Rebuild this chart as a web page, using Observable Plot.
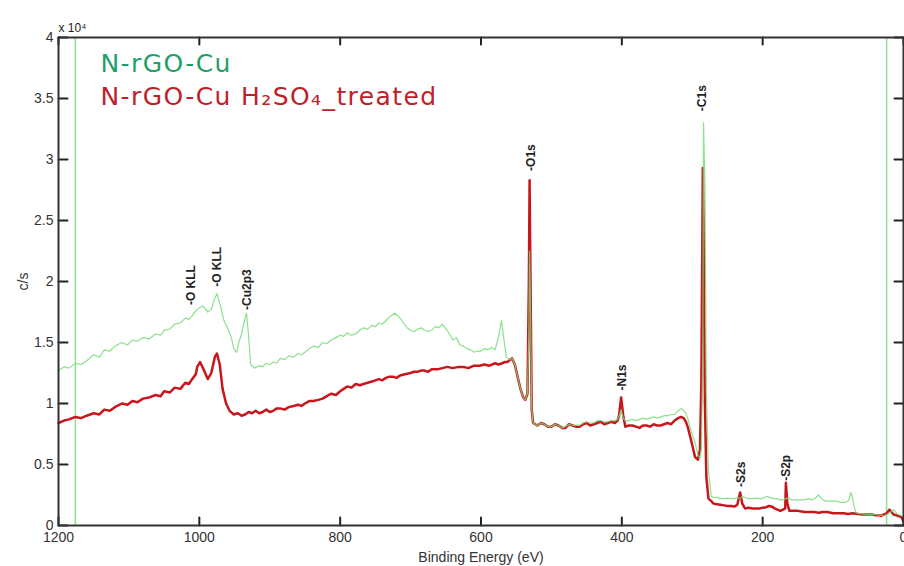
<!DOCTYPE html>
<html>
<head>
<meta charset="utf-8">
<script src="https://cdn.jsdelivr.net/npm/d3@7"></script>
<script src="https://cdn.jsdelivr.net/npm/@observablehq/plot@0.6"></script>
<style>
  html, body { margin: 0; padding: 0; background: #fff; }
  .legend text { letter-spacing: 1.4px; }
</style>
</head>
<body>
<div id="chart"></div>
<script>
// Binding energy (eV) and intensity (c/s, in units of 10^4) — N-rGO-Cu H2SO4_treated (red)
const treatedEnergy = [1200,1192,1185,1176,1168,1160,1150,1142,1135,1127,1120,1110,1102,1095,1088,1080,1071,1062,1055,1050,1042,1035,1027,1020,1015,1010,1005,1003,999,994,988,983,978,975,971,967,962,957,951,945,940,935,930,925,920,915,910,905,900,895,890,885,879,873,866,860,855,850,844,838,831,825,819,813,806,800,795,790,784,778,772,767,761,755,750,745,740,735,730,725,720,715,708,700,695,690,685,680,675,670,662,655,648,640,632,625,618,610,602,595,588,580,575,570,566,562,559,556,552,548,544,540,537,534,532,531,530,528,526,520,515,510,505,500,495,490,485,480,475,470,465,460,455,450,445,440,435,430,425,420,415,410,406,404,401,398,395,390,385,380,375,370,365,360,355,350,345,340,335,330,325,320,316,312,309,306,303,300,296,292,289,287,285,284,282,280,277,273,270,265,260,255,250,245,240,236,232,229,225,220,215,210,205,200,195,191,187,183,179,175,171,168,167,165,162,156,150,145,140,133,127,120,115,108,100,95,90,85,79,72,65,58,50,45,40,35,32,28,24,20,14,8,3,0];
const treatedCounts = [0.84,0.86,0.87,0.89,0.88,0.90,0.92,0.91,0.95,0.94,0.97,1.00,0.99,1.02,1.01,1.04,1.05,1.07,1.06,1.10,1.09,1.13,1.12,1.17,1.16,1.20,1.24,1.30,1.34,1.28,1.20,1.25,1.38,1.41,1.32,1.12,1.00,0.94,0.91,0.92,0.90,0.91,0.93,0.92,0.94,0.92,0.93,0.95,0.93,0.94,0.96,0.96,0.95,0.97,0.98,0.99,0.98,1.00,1.02,1.02,1.03,1.04,1.06,1.08,1.07,1.10,1.12,1.14,1.13,1.16,1.15,1.16,1.17,1.18,1.19,1.20,1.19,1.21,1.22,1.22,1.21,1.23,1.24,1.25,1.26,1.26,1.27,1.27,1.26,1.28,1.28,1.29,1.30,1.29,1.30,1.30,1.29,1.31,1.31,1.32,1.31,1.33,1.32,1.33,1.34,1.34,1.36,1.37,1.32,1.22,1.12,1.05,1.03,1.08,2.00,2.83,2.20,0.95,0.84,0.82,0.84,0.83,0.81,0.81,0.83,0.82,0.80,0.80,0.83,0.82,0.81,0.81,0.83,0.84,0.82,0.83,0.84,0.85,0.83,0.84,0.85,0.84,0.86,0.90,1.05,0.90,0.81,0.82,0.82,0.81,0.80,0.82,0.82,0.81,0.83,0.82,0.82,0.83,0.84,0.83,0.86,0.88,0.89,0.88,0.85,0.80,0.73,0.66,0.56,0.54,0.62,1.20,2.93,2.50,1.00,0.40,0.22,0.20,0.18,0.175,0.17,0.165,0.16,0.16,0.155,0.17,0.27,0.18,0.14,0.145,0.14,0.14,0.14,0.145,0.15,0.16,0.155,0.14,0.13,0.12,0.13,0.14,0.35,0.18,0.12,0.12,0.12,0.115,0.11,0.11,0.11,0.105,0.11,0.11,0.10,0.10,0.10,0.10,0.095,0.10,0.095,0.09,0.09,0.09,0.085,0.085,0.08,0.09,0.10,0.13,0.09,0.08,0.07,0.03,0.00];

// N-rGO-Cu (green)
const pristineEnergy = [1200,1192,1185,1176,1168,1160,1150,1142,1135,1127,1120,1110,1102,1095,1088,1080,1071,1062,1055,1050,1042,1035,1027,1020,1015,1010,1005,1001,995,988,983,979,975,970,965,960,955,951,947,944,940,936,933,930,927,922,915,910,905,900,895,890,885,879,873,866,860,855,850,844,838,831,825,819,813,806,800,795,790,784,778,772,767,761,755,750,745,740,735,728,722,715,710,705,700,695,690,685,680,675,670,665,660,655,648,640,635,630,625,620,615,610,605,600,595,590,585,580,575,571,568,564,560,556,552,548,544,540,537,534,532,531,530,528,526,520,515,510,505,500,495,490,485,480,475,470,465,460,455,450,445,440,435,430,425,420,415,410,406,404,401,398,395,390,385,380,375,370,365,360,355,350,345,340,335,330,325,322,318,316,312,309,306,303,300,296,292,289,287,285,284,282,280,277,273,270,265,260,255,250,245,240,236,232,229,225,220,215,210,205,201,198,194,190,185,180,175,171,167,163,160,155,150,145,140,135,130,127,124,121,118,114,110,105,100,95,90,86,82,79,77,75,73,71,68,65,58,50,45,40,35,32,28,24,20,14,8,3,0];
const pristineCounts = [1.27,1.30,1.29,1.33,1.32,1.35,1.40,1.38,1.44,1.43,1.47,1.50,1.48,1.52,1.51,1.54,1.53,1.57,1.56,1.60,1.61,1.65,1.66,1.70,1.69,1.72,1.76,1.78,1.80,1.75,1.77,1.85,1.90,1.80,1.68,1.62,1.55,1.45,1.42,1.50,1.57,1.68,1.74,1.55,1.32,1.29,1.31,1.30,1.33,1.32,1.34,1.33,1.37,1.36,1.39,1.38,1.41,1.40,1.42,1.45,1.47,1.46,1.50,1.49,1.52,1.54,1.56,1.55,1.58,1.56,1.57,1.60,1.62,1.61,1.64,1.63,1.66,1.65,1.68,1.72,1.74,1.70,1.66,1.62,1.60,1.59,1.61,1.62,1.60,1.59,1.60,1.63,1.62,1.65,1.60,1.52,1.54,1.48,1.47,1.45,1.44,1.42,1.43,1.43,1.45,1.44,1.46,1.44,1.55,1.68,1.55,1.38,1.36,1.37,1.32,1.22,1.12,1.05,1.03,1.08,1.60,2.25,1.90,0.95,0.84,0.82,0.84,0.83,0.81,0.81,0.83,0.82,0.80,0.81,0.83,0.82,0.82,0.82,0.84,0.85,0.84,0.84,0.86,0.86,0.85,0.85,0.86,0.86,0.87,0.90,0.95,0.88,0.86,0.86,0.87,0.86,0.87,0.88,0.87,0.88,0.89,0.88,0.89,0.90,0.90,0.91,0.91,0.93,0.95,0.96,0.94,0.92,0.87,0.80,0.75,0.68,0.58,0.55,0.64,1.40,3.30,2.80,1.10,0.45,0.24,0.23,0.23,0.22,0.22,0.225,0.22,0.22,0.23,0.22,0.24,0.23,0.22,0.22,0.225,0.22,0.22,0.23,0.24,0.23,0.22,0.22,0.21,0.21,0.22,0.23,0.21,0.21,0.21,0.21,0.21,0.22,0.21,0.22,0.23,0.25,0.23,0.21,0.20,0.20,0.20,0.20,0.19,0.19,0.19,0.20,0.22,0.27,0.24,0.18,0.11,0.10,0.095,0.09,0.09,0.09,0.085,0.085,0.08,0.09,0.10,0.13,0.09,0.08,0.07,0.03,0.00];

// Vertical marker lines (eV)
const markerLines = [1176, 24];

// Peak labels
const peakLabels = ["-O KLL", "-O KLL", "-Cu2p3", "-O1s", "-N1s", "-C1s", "-S2s", "-S2p"];
const peakEnergy = [1012, 975, 932, 529, 400, 286, 231, 166];
const peakLevel  = [1.79, 1.94, 1.75, 2.89, 1.09, 3.38, 0.30, 0.35];

// Series names
const seriesNames = ["N-rGO-Cu", "N-rGO-Cu H\u2082SO\u2084_treated"];

// Tick values
const xTicks = [1200, 1000, 800, 600, 400, 200, 0];
const yTicks = [0, 0.5, 1, 1.5, 2, 2.5, 3, 3.5, 4];

const treated = treatedEnergy.map((e, i) => ({e, v: treatedCounts[i]}));
const pristine = pristineEnergy.map((e, i) => ({e, v: pristineCounts[i]}));
const peaks = peakLabels.map((t, i) => ({t, e: peakEnergy[i], v: peakLevel[i]}));

// layout
const W = 904, H = 566, mL = 58, mR = 1, mT = 37, mB = 41;
const xDomain = [1200, 0], yDomain = [0, 4];
// short inward tick lengths (pixels) converted to data units through the frame size
const fw = W - mL - mR, fh = H - mT - mB;
const xPerPx = (xDomain[0] - xDomain[1]) / fw;
const yPerPx = (yDomain[1] - yDomain[0]) / fh;
const tickSegments = [
  ...xTicks.flatMap((t, i) => [{id: "b" + i, x: t, y: yDomain[0]}, {id: "b" + i, x: t, y: yDomain[0] + 8 * yPerPx}]),
  ...xTicks.flatMap((t, i) => [{id: "t" + i, x: t, y: yDomain[1]}, {id: "t" + i, x: t, y: yDomain[1] - 7 * yPerPx}]),
  ...yTicks.flatMap((t, i) => [{id: "l" + i, x: xDomain[0], y: t}, {id: "l" + i, x: xDomain[0] - 9 * xPerPx, y: t}]),
  ...yTicks.flatMap((t, i) => [{id: "r" + i, x: xDomain[1], y: t}, {id: "r" + i, x: xDomain[1] + 9 * xPerPx, y: t}])
];

const plot = Plot.plot({
  width: W,
  height: H,
  marginLeft: mL,
  marginRight: mR,
  marginTop: mT,
  marginBottom: mB,
  style: {fontFamily: "'Liberation Sans', Arial, sans-serif", fontSize: "14px", color: "#333", background: "#fff"},
  x: {domain: xDomain},
  y: {domain: yDomain},
  marks: [
    Plot.ruleX(markerLines, {stroke: "#8fe38f", strokeWidth: 1.5}),
    Plot.line(treated, {x: "e", y: "v", stroke: "#c8161c", strokeWidth: 2.5, curve: "linear"}),
    Plot.line(pristine, {x: "e", y: "v", stroke: "#78dc78", strokeWidth: 1.2, strokeOpacity: 0.85, curve: "linear"}),
    Plot.text(peaks, {x: "e", y: "v", text: "t", rotate: -90, textAnchor: "start", fontSize: 12, fontWeight: "bold", fill: "#222", dy: -2}),
    Plot.text([seriesNames[0]], {frameAnchor: "top-left", dx: 42, dy: 26, text: d => d, textAnchor: "start", lineAnchor: "middle", fontSize: 25, fontFamily: "'DejaVu Sans', sans-serif", fill: "#1f9e6a", className: "legend"}),
    Plot.text([seriesNames[1]], {frameAnchor: "top-left", dx: 42, dy: 59, text: d => d, textAnchor: "start", lineAnchor: "middle", fontSize: 25, fontFamily: "'DejaVu Sans', sans-serif", fill: "#c0202a", className: "legend"}),
    // inward tick marks on all four sides, drawn as short line segments
    Plot.line(tickSegments, {x: "x", y: "y", z: "id", stroke: "#222", strokeWidth: 2}),
    // tick labels and axis titles
    Plot.axisX({anchor: "bottom", ticks: xTicks, tickFormat: d => String(d), tickSize: 0, tickPadding: 7, label: "Binding Energy (eV)", labelAnchor: "center", labelOffset: 36, labelArrow: "none"}),
    Plot.axisY({anchor: "left", ticks: yTicks, tickFormat: d => String(d), tickSize: 0, tickPadding: 5, label: "c/s", labelAnchor: "center", labelOffset: 40, labelArrow: "none"}),
    // plot box drawn as rules on the domain edges
    Plot.ruleY(yDomain, {stroke: "#333", strokeWidth: 2}),
    Plot.ruleX(xDomain, {stroke: "#333", strokeWidth: 2}),
    Plot.text(["x 10\u2074"], {frameAnchor: "top-left", dx: 0, dy: -14, text: d => d, textAnchor: "start", fontSize: 12, fill: "#222"})
  ]
});
document.getElementById("chart").appendChild(plot);
</script>
</body>
</html>
